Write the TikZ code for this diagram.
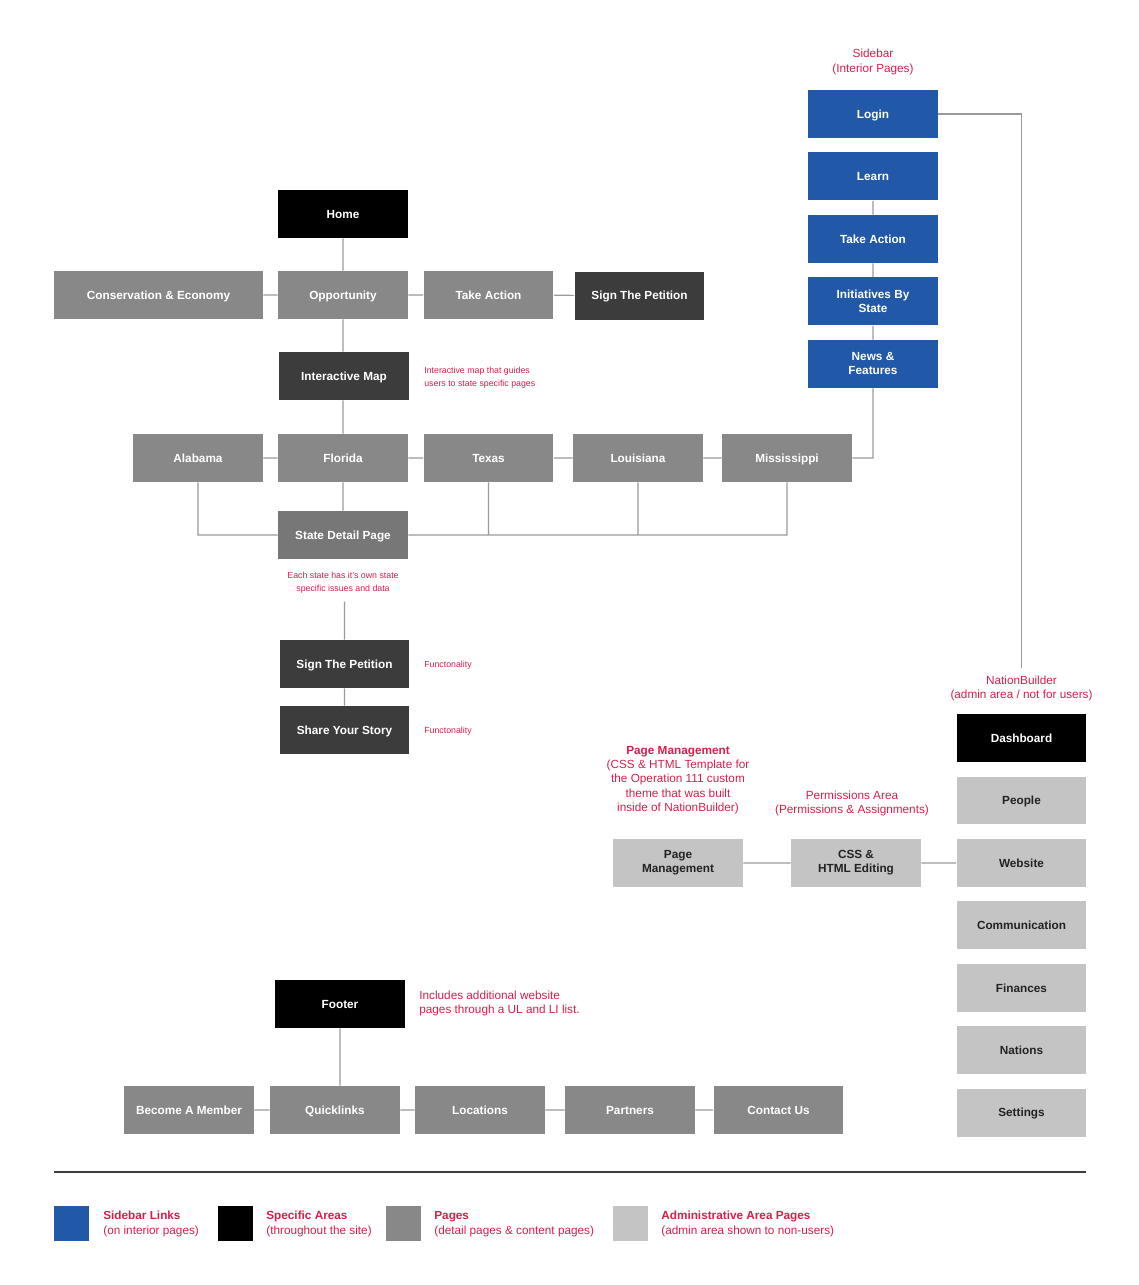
\documentclass[tikz,border=0pt]{standalone}
\usepackage{fontspec}
\setmainfont{Liberation Sans}
\usetikzlibrary{positioning, backgrounds}

\definecolor{sideblue}{HTML}{2258A8}
\definecolor{darkbox}{HTML}{3C3C3C}
\definecolor{pagegray}{HTML}{888888}
\definecolor{detailgray}{HTML}{777777}
\definecolor{admingray}{HTML}{C4C4C4}
\definecolor{admintext}{HTML}{222222}
\definecolor{notered}{HTML}{D6204B}
\definecolor{linegray}{HTML}{9A9A9A}

\begin{document}
\begin{tikzpicture}[x=0.02cm, y=-0.02cm, on grid, node distance=1.25cm,
    box/.style={minimum width=2.6cm, minimum height=0.96cm, inner sep=0pt, align=center,
        text height=6pt, text depth=1.4pt, text=white, font=\fontsize{6.7}{8}\selectfont\bfseries},
    twoline/.style={text height={}, text depth={}},
    side/.style={box, fill=sideblue},
    area/.style={box, fill=black},
    dark/.style={box, fill=darkbox},
    page/.style={box, fill=pagegray},
    admin/.style={box, fill=admingray, text=admintext},
    note/.style={text=notered, align=center, inner sep=0pt, font=\fontsize{6.7}{8.2}\selectfont},
    small/.style={note, align=left, font=\fontsize{5}{7.4}\selectfont},
    link/.style={draw=linegray, line width=0.6pt}]

    \fill[white] (0,0) rectangle (1139,1285);

    % sidebar
    \node[note] (sidenote) at (873,62) {Sidebar\\(Interior Pages)};
    \node[side] (login) at (873,114) {Login};
    \node[side] (learn)    [below=of login]    {Learn};
    \node[side] (sidetake) [below=of learn]    {Take Action};
    \node[side, twoline] (init) [below=of sidetake] {Initiatives By\\State};
    \node[side, twoline] (news) [below=of init]     {News \&\\Features};

    % main pages
    \node[area] (home) at (343,214) {Home};
    \node[page, minimum width=4.18cm] (cons) at (158.5,295) {Conservation \& Economy};
    \node[page] (opp)  at (343,295) {Opportunity};
    \node[page] (take) at (488.5,295) {Take Action};
    \node[dark] (sign) at (639.5,295.5) {Sign The Petition};
    \node[dark] (imap) at (344,376) {Interactive Map};
    \node[small, anchor=west] (imapnote) at (424,378) {Interactive map that guides\\users to state specific pages};

    \node[page] (alabama) at (198,458) {Alabama};
    \node[page] (florida) at (343,458) {Florida};
    \node[page] (texas)   at (488.5,458) {Texas};
    \node[page] (louis)   at (638,458) {Louisiana};
    \node[page] (miss)    at (787,458) {Mississippi};
    \node[box, fill=detailgray] (detail) at (343,535) {State Detail Page};
    \node[small, align=center] (detailnote) at (343,583) {Each state has it's own state\\specific issues and data};

    \node[dark] (petition) at (344.5,664) {Sign The Petition};
    \node[dark] (story)    at (344.5,730) {Share Your Story};
    \coordinate[above=0.76cm of petition.north] (petfeed);
    \node[small, anchor=west] (petnote)   at (424,665) {Functonality};
    \node[small, anchor=west] (storynote) at (424,731) {Functonality};

    % nationbuilder
    \node[note] (nbnote) at (1021.5,688.5) {NationBuilder\\(admin area / not for users)};
    \node[area]  (dash) at (1021.5,738) {Dashboard};
    \node[admin] (people)   [below=of dash]    {People};
    \node[admin] (website)  [below=of people]  {Website};
    \node[admin] (comm)     [below=of website] {Communication};
    \node[admin] (finances) [below=of comm]    {Finances};
    \node[admin] (nations)  [below=of finances]{Nations};
    \node[admin] (settings) [below=of nations] {Settings};

    \node[admin, twoline] (pm)  at (678,863) {Page\\Management};
    \node[admin, twoline] (css) at (856,863) {CSS \&\\HTML Editing};
    \node[note] (pmnote) at (678,780) {\textbf{Page Management}\\(CSS \& HTML Template for\\the Operation 111 custom\\theme that was built\\inside of NationBuilder)};
    \node[note] (cssnote) at (852,803.5) {Permissions Area\\(Permissions \& Assignments)};

    % footer
    \node[area] (footer) at (340,1004) {Footer};
    \node[note, align=left, anchor=west] (footnote) at (419,1003.5) {Includes additional website\\pages through a UL and LI list.};
    \node[page] (member)   at (189,1110) {Become A Member};
    \node[page] (quick)    at (335,1110) {Quicklinks};
    \node[page] (locs)     at (480,1110) {Locations};
    \node[page] (partners) at (630,1110) {Partners};
    \node[page] (contact)  at (778.5,1110) {Contact Us};

    % connectors
    \begin{scope}[on background layer]
        \path[link] (sidetake.west) -| (louis.north);
    \end{scope}
    \path[link, shorten >=4pt] (login.east) -| (nbnote.north);
    \path[link] (learn) -- (sidetake) (sidetake) -- (init) (init) -- (news)
        (home) -- (opp) (cons) -- (opp) (opp) -- (take) (take) -- (sign)
        (opp) -- (imap.north -| opp) (imap.south -| florida) -- (florida)
        (alabama) -- (florida) (florida) -- (texas) (texas) -- (louis) (louis) -- (miss)
        (miss.east) -| (news.south)
        (alabama.south) |- (detail.west) (florida) -- (detail)
        (detail.east) -| (miss.south)
        (texas.south) -- (texas |- detail.east)
        (louis.south) -- (louis |- detail.east)
        (petfeed) -- (petition.north)
        (petition) -- (story)
        (pm) -- (css) (css) -- (website)
        (footer) -- (footer |- quick.north)
        (member) -- (quick) (quick) -- (locs) (locs) -- (partners) (partners) -- (contact);

    % legend
    \draw[draw=darkbox, line width=0.9pt] (54,1172) -- (1086,1172);
    \tikzset{key/.style={minimum size=0.7cm, inner sep=0pt, anchor=west}}
    \node[key, fill=sideblue]  (keyside)  at (54,1223) {};
    \node[key, fill=black]     (keyarea)  at (218,1223) {};
    \node[key, fill=pagegray]  (keypage)  at (386,1223) {};
    \node[key, fill=admingray] (keyadmin) at (613,1223) {};
    \node[note, align=left, anchor=west] at (103,1224) {\textbf{Sidebar Links}\\(on interior pages)};
    \node[note, align=left, anchor=west] at (266,1224) {\textbf{Specific Areas}\\(throughout the site)};
    \node[note, align=left, anchor=west] at (434,1224) {\textbf{Pages}\\(detail pages \& content pages)};
    \node[note, align=left, anchor=west] at (661,1224) {\textbf{Administrative Area Pages}\\(admin area shown to non-users)};
\end{tikzpicture}
\end{document}
